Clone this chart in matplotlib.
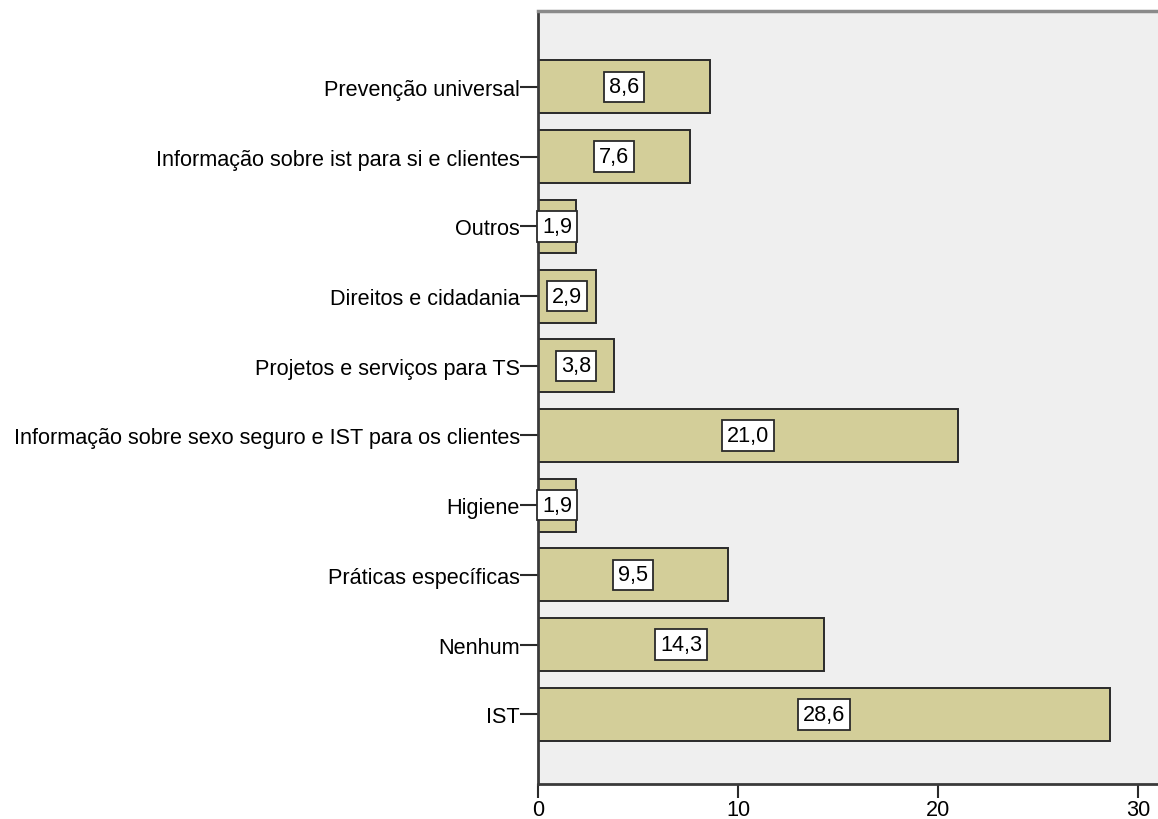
import matplotlib.pyplot as plt

categories = [
    "IST",
    "Nenhum",
    "Práticas específicas",
    "Higiene",
    "Informação sobre sexo seguro e IST para os clientes",
    "Projetos e serviços para TS",
    "Direitos e cidadania",
    "Outros",
    "Informação sobre ist para si e clientes",
    "Prevenção universal",
]
values = [28.6, 14.3, 9.5, 1.9, 21.0, 3.8, 2.9, 1.9, 7.6, 8.6]
xticks = [0, 10, 20, 30]

plt.rcParams['font.family'] = ['Liberation Sans', 'DejaVu Sans']
fs = 15.6

W, H = 1158, 820
fig = plt.figure(figsize=(W / 100, H / 100), dpi=100)
left, right, top, bottom = 538, 1165, 12, 785
ax = fig.add_axes([left / W, 1 - bottom / H, (right - left) / W, (bottom - top) / H])
ax.set_facecolor('#efefef')

pos = list(range(len(categories)))
ax.barh(pos, values, height=0.76, color='#d3ce99', edgecolor='#2a2a2a', linewidth=1.4, zorder=2)

for p, v in zip(pos, values):
    ax.text(v / 2, p, f"{v:.1f}".replace('.', ','), ha='center', va='center', fontsize=fs,
            bbox=dict(boxstyle='square,pad=0.22', facecolor='white', edgecolor='#2a2a2a', linewidth=1.3),
            zorder=3)

ax.set_xlim(0, (right - left) / 20)
ax.set_ylim(-1.0, 10.09)
ax.set_yticks(pos)
ax.set_yticklabels(categories, fontsize=fs)
ax.set_xticks(xticks)
ax.set_xticklabels([str(t) for t in xticks], fontsize=fs)
ax.tick_params(axis='y', length=13, width=1.5, color='#2a2a2a', pad=0)
ax.tick_params(axis='x', length=10, width=1.5, color='#2a2a2a', pad=1)

for side in ['left', 'bottom']:
    ax.spines[side].set_linewidth(2)
    ax.spines[side].set_color('#3a3a3a')
ax.spines['top'].set_linewidth(2.5)
ax.spines['top'].set_color('#8a8a8a')
ax.spines['right'].set_visible(False)

fig.savefig('out.png', dpi=100)
